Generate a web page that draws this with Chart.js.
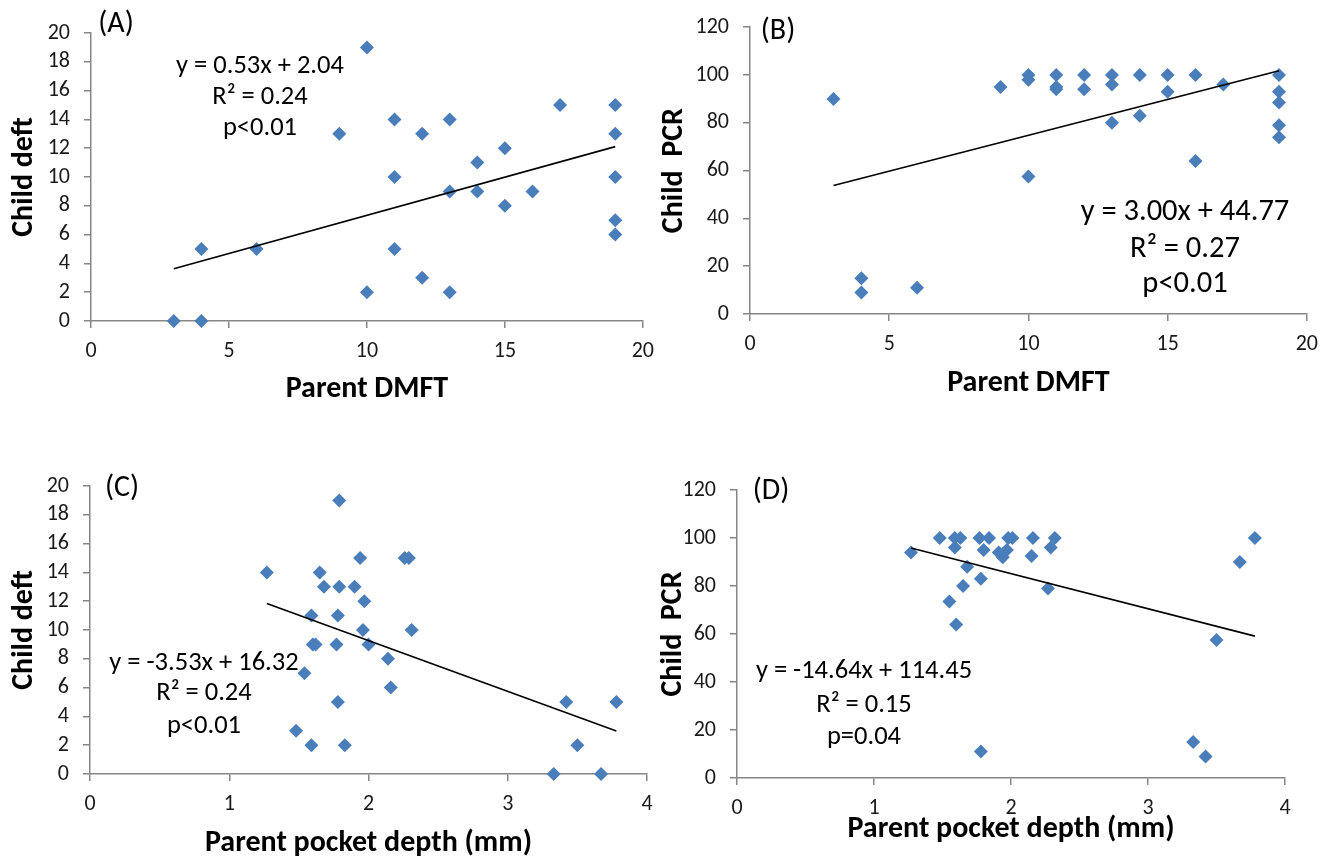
<!DOCTYPE html>
<html>
<head>
<meta charset="utf-8">
<script src="https://cdn.jsdelivr.net/npm/chart.js@4.4.1/dist/chart.umd.min.js"></script>
<style>
  html, body { margin: 0; padding: 0; background: #fff; }
  body { width: 1328px; height: 858px; position: relative; overflow: hidden; }
  canvas { position: absolute; }
</style>
</head>
<body>
<canvas id="chartA" width="664" height="420" style="left:0px;top:0px"></canvas>
<canvas id="chartB" width="678" height="420" style="left:650px;top:0px"></canvas>
<canvas id="chartC" width="664" height="428" style="left:0px;top:430px"></canvas>
<canvas id="chartD" width="688" height="428" style="left:640px;top:430px"></canvas>
<script>
// (A) parent DMFT vs child deft
const dmftA = [3, 4, 4, 6, 9, 10, 10, 11, 11, 11, 12, 12, 13, 13, 13, 14, 14, 15, 15, 16, 17, 19, 19, 19, 19, 19];
const deftA = [0, 0, 5, 5, 13, 19, 2, 14, 10, 5, 13, 3, 14, 9, 2, 11, 9, 12, 8, 9, 15, 15, 13, 10, 7, 6];
const trendAx = [3, 19];
const trendAy = [3.63, 12.11];

// (B) parent DMFT vs child PCR
const dmftB = [3, 4, 4, 6, 9, 10, 10, 10, 11, 11, 11, 12, 12, 13, 13, 13, 14, 14, 15, 15, 16, 16, 17, 19, 19, 19, 19, 19];
const pcrB = [90, 15, 9, 11, 95, 100, 98, 57.5, 100, 95, 94, 100, 94, 100, 96, 80, 100, 83, 100, 93, 100, 64, 96, 100, 93, 88.5, 79, 74];
const trendBx = [3, 19];
const trendBy = [53.77, 101.77];

// (C) parent pocket depth vs child deft
const pdC = [1.27, 1.79, 1.94, 2.26, 2.29, 1.65, 1.68, 1.79, 1.90, 1.97, 1.59, 1.78, 1.96, 2.31, 1.60, 1.62, 1.77, 2.00, 2.14, 1.54, 2.16, 1.78, 3.42, 3.78, 1.48, 1.59, 1.83, 3.50, 3.33, 3.67];
const deftC = [14, 19, 15, 15, 15, 14, 13, 13, 13, 12, 11, 11, 10, 10, 9, 9, 9, 9, 8, 7, 6, 5, 5, 5, 3, 2, 2, 2, 0, 0];
const trendCx = [1.27, 3.78];
const trendCy = [11.84, 2.98];

// (D) parent pocket depth vs child PCR
const pdD = [1.27, 1.48, 1.59, 1.63, 1.59, 1.68, 1.65, 1.55, 1.60, 1.77, 1.84, 1.80, 1.78, 1.91, 1.94, 1.97, 1.98, 2.01, 2.16, 2.15, 2.29, 2.32, 2.27, 1.78, 3.33, 3.42, 3.50, 3.67, 3.78];
const pcrD = [94, 100, 100, 100, 96, 88, 80, 73.5, 64, 100, 100, 95, 83, 94, 92, 95, 100, 100, 100, 92.5, 96, 100, 79, 11, 15, 9, 57.5, 90, 100];
const trendDx = [1.27, 3.78];
const trendDy = [95.86, 59.11];

const FONT = "Carlito, 'Liberation Sans Narrow', 'Open Sans', sans-serif";
const AXIS_GRAY = '#868686';
const MARKER = '#4A7EBB';

function toPoints(xs, ys) {
  return xs.map((x, i) => ({ x: x, y: ys[i] }));
}

// draws the panel letter and the regression text
const notesPlugin = {
  id: 'notes',
  afterDatasetsDraw(chart, args, opts) {
    const ctx = chart.ctx;
    ctx.save();
    ctx.fillStyle = '#000';
    ctx.textAlign = 'center';
    ctx.textBaseline = 'middle';
    for (const n of opts.items) {
      ctx.font = n.size + 'px ' + FONT;
      ctx.fillText(n.text, n.x, n.y);
    }
    ctx.restore();
  }
};

function makePanel(id, cfg) {
  new Chart(document.getElementById(id), {
    type: 'scatter',
    data: {
      datasets: [
        {
          type: 'line',
          data: toPoints(cfg.trendX, cfg.trendY),
          borderColor: '#000',
          borderWidth: 1.6,
          pointRadius: 0,
          fill: false
        },
        {
          data: toPoints(cfg.xs, cfg.ys),
          pointStyle: 'rectRot',
          pointRadius: 7,
          backgroundColor: MARKER,
          borderWidth: 0,
          clip: false
        }
      ]
    },
    options: {
      responsive: false,
      animation: false,
      events: [],
      layout: { padding: { left: 0, top: cfg.padTop, right: cfg.padRight, bottom: 0 } },
      plugins: {
        legend: { display: false },
        tooltip: { enabled: false },
        notes: { items: cfg.notes }
      },
      scales: {
        x: {
          type: 'linear',
          min: cfg.xMin, max: cfg.xMax,
          ticks: { stepSize: cfg.xStep, autoSkip: false, padding: 10, color: '#1a1a1a', font: { family: FONT, size: 22 } },
          grid: { drawOnChartArea: false, tickLength: 7, color: AXIS_GRAY, lineWidth: 1.5 },
          border: { color: AXIS_GRAY, width: 1.5 },
          title: {
            display: true, text: cfg.xTitle, color: '#000',
            font: { family: FONT, size: 30, weight: 'bold', lineHeight: 1 },
            padding: { top: 0, bottom: cfg.xTitlePad }
          },
          afterFit(s) { s.height = cfg.xHeight; }
        },
        y: {
          type: 'linear',
          min: cfg.yMin, max: cfg.yMax,
          ticks: { stepSize: cfg.yStep, autoSkip: false, padding: 14, color: '#1a1a1a', font: { family: FONT, size: 22 } },
          grid: { drawOnChartArea: false, tickLength: 7, color: AXIS_GRAY, lineWidth: 1.5 },
          border: { color: AXIS_GRAY, width: 1.5 },
          title: {
            display: true, text: cfg.yTitle, color: '#000',
            font: { family: FONT, size: 30, weight: 'bold', lineHeight: 1 },
            padding: { top: cfg.yTitlePad, bottom: 0 }
          },
          afterFit(s) { s.width = cfg.yWidth; }
        }
      }
    },
    plugins: [notesPlugin]
  });
}

makePanel('chartA', {
  xs: dmftA, ys: deftA, trendX: trendAx, trendY: trendAy,
  xMin: 0, xMax: 20, xStep: 5, yMin: 0, yMax: 20, yStep: 2,
  xTitle: 'Parent DMFT', yTitle: 'Child deft',
  padTop: 33, padRight: 15, xHeight: 99, yWidth: 91, xTitlePad: 16, yTitlePad: 9,
  notes: [
    { text: '(A)', x: 116, y: 24, size: 30 },
    { text: 'y = 0.53x + 2.04', x: 260, y: 66, size: 26.5 },
    { text: 'R² = 0.24', x: 260, y: 97, size: 26.5 },
    { text: 'p<0.01', x: 260, y: 128, size: 26.5 }
  ]
});

makePanel('chartB', {
  xs: dmftB, ys: pcrB, trendX: trendBx, trendY: trendBy,
  xMin: 0, xMax: 20, xStep: 5, yMin: 0, yMax: 120, yStep: 20,
  xTitle: 'Parent DMFT', yTitle: 'Child  PCR',
  padTop: 27, padRight: 21, xHeight: 106, yWidth: 100, xTitlePad: 22, yTitlePad: 9,
  notes: [
    { text: '(B)', x: 128, y: 31, size: 30 },
    { text: 'y = 3.00x + 44.77', x: 535, y: 212, size: 30.5 },
    { text: 'R² = 0.27', x: 535, y: 249, size: 30.5 },
    { text: 'p<0.01', x: 535, y: 284, size: 30.5 }
  ]
});

makePanel('chartC', {
  xs: pdC, ys: deftC, trendX: trendCx, trendY: trendCy,
  xMin: 0, xMax: 4, xStep: 1, yMin: 0, yMax: 20, yStep: 2,
  xTitle: 'Parent pocket depth (mm)', yTitle: 'Child deft',
  padTop: 56, padRight: 17, xHeight: 84, yWidth: 90, xTitlePad: 0, yTitlePad: 9,
  notes: [
    { text: '(C)', x: 122, y: 58, size: 30 },
    { text: 'y = -3.53x + 16.32', x: 204, y: 233, size: 26.5 },
    { text: 'R² = 0.24', x: 204, y: 263, size: 26.5 },
    { text: 'p<0.01', x: 204, y: 296, size: 26.5 }
  ]
});

makePanel('chartD', {
  xs: pdD, ys: pcrD, trendX: trendDx, trendY: trendDy,
  xMin: 0, xMax: 4, xStep: 1, yMin: 0, yMax: 120, yStep: 20,
  xTitle: 'Parent pocket depth (mm)', yTitle: 'Child  PCR',
  padTop: 60, padRight: 43, xHeight: 80, yWidth: 97, xTitlePad: 14, yTitlePad: 18,
  notes: [
    { text: '(D)', x: 131, y: 61, size: 30 },
    { text: 'y = -14.64x + 114.45', x: 224, y: 241, size: 26.5 },
    { text: 'R² = 0.15', x: 224, y: 275, size: 26.5 },
    { text: 'p=0.04', x: 224, y: 307, size: 26.5 }
  ]
});
</script>
</body>
</html>
